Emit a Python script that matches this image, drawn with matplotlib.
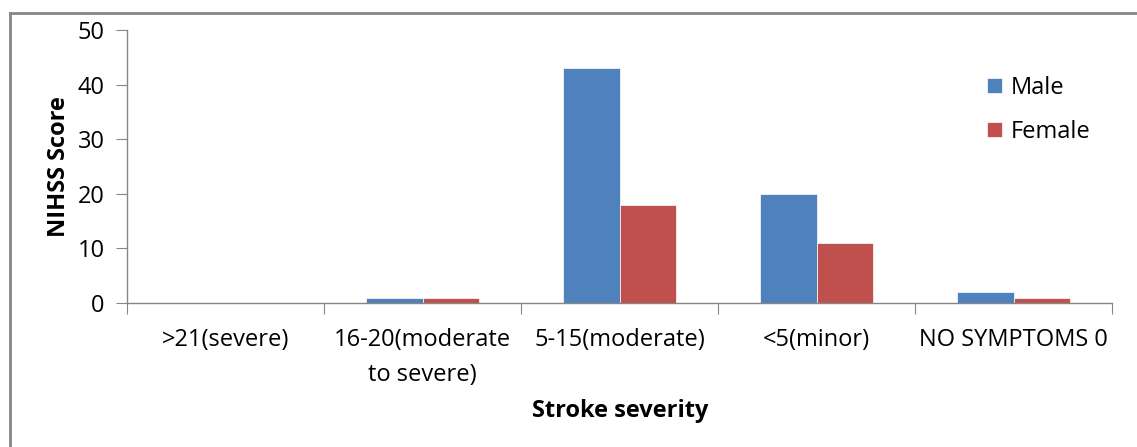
import matplotlib
matplotlib.use("Agg")
import matplotlib.pyplot as plt
from matplotlib.lines import Line2D
import numpy as np

categories = [">21(severe)", "16-20(moderate\nto severe)", "5-15(moderate)", "<5(minor)", "NO SYMPTOMS 0"]
male = [0, 1, 43, 20, 2]
female = [0, 1, 18, 11, 1]
yticks = [0, 10, 20, 30, 40, 50]

plt.rcParams['font.family'] = ['Open Sans', 'DejaVu Sans']
FS = 17

W, H = 1137, 447
fig = plt.figure(figsize=(W / 100, H / 100), dpi=100)
ax = fig.add_axes([127 / W, 1 - 303 / H, (1112 - 127) / W, (303 - 30) / H])

x = np.arange(len(categories))
bw = 1 / 3.5
blue = '#4F81BD'
red = '#C0504D'
ax.bar(x - bw / 2, male, bw, color=blue, edgecolor='white', linewidth=0.5, label='Male')
ax.bar(x + bw / 2, female, bw, color=red, edgecolor='white', linewidth=0.5, label='Female')

ax.set_xlim(-0.5, len(categories) - 0.5)
ax.set_ylim(0, 50)
ax.set_yticks(yticks)
ax.set_yticklabels([str(v) for v in yticks], fontsize=FS)
gray = '#868686'
for s in ['top', 'right']:
    ax.spines[s].set_visible(False)
for s in ['left', 'bottom']:
    ax.spines[s].set_color(gray)
    ax.spines[s].set_linewidth(1)
ax.tick_params(axis='y', length=8, color=gray, direction='out', pad=8)
ax.set_xticks(np.arange(-0.5, len(categories), 1))
ax.set_xticklabels([])
ax.tick_params(axis='x', length=8, color=gray, direction='out')
for i, c in enumerate(categories):
    ax.text(i, -4.6, c, ha='center', va='top', fontsize=FS, linespacing=1.6)

ax.set_ylabel('NIHSS Score', fontsize=FS, fontweight='bold', labelpad=5)
fig.text(620 / W, 1 - 411 / H, 'Stroke severity', ha='center', va='center', fontsize=FS, fontweight='bold')

leg = ax.legend(loc='upper left', bbox_to_anchor=(975 / W, 1 - 64 / H), bbox_transform=fig.transFigure,
                frameon=False, fontsize=FS, handlelength=0.65, handleheight=0.65,
                handletextpad=0.35, labelspacing=0.85, borderpad=0)

# outer chart border (top and left)
fig.add_artist(Line2D([9.5 / W, 9.5 / W], [0, 1 - 13 / H], transform=fig.transFigure, color=gray, lw=2))
fig.add_artist(Line2D([9.5 / W, 1.0], [1 - 13 / H, 1 - 13 / H], transform=fig.transFigure, color=gray, lw=2))

fig.savefig('out.png', dpi=100)
